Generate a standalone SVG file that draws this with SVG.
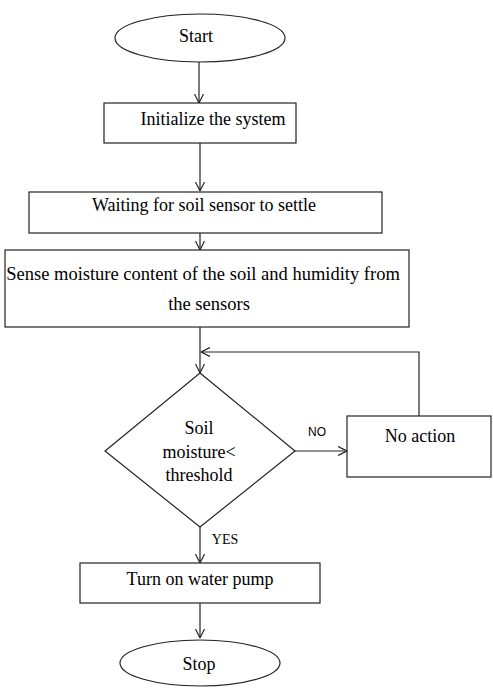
<svg xmlns="http://www.w3.org/2000/svg" width="493" height="689" viewBox="0 0 493 689">
<style>
.s{fill:#fff;stroke:#222;stroke-width:1.2}
.t{font-family:'Liberation Serif','Times New Roman',serif;font-size:18px;fill:#000;text-anchor:middle}
.l{stroke:#222;stroke-width:1.2;fill:none}
.sm{font-family:'Liberation Sans',Arial,sans-serif;font-size:12px;fill:#000;text-anchor:middle}
</style>
<defs>
<marker id="a" viewBox="0 0 10 10" refX="10" refY="5" markerWidth="9" markerHeight="10" markerUnits="userSpaceOnUse" orient="auto">
<path d="M0,0 L10,5 L0,10" fill="none" stroke="#222" stroke-width="1.3"/>
</marker>
</defs>
<rect width="493" height="689" fill="#fff"/>
<g id="connectors">
<line class="l" x1="199" y1="62" x2="199" y2="103" marker-end="url(#a)"/>
<line class="l" x1="200" y1="143" x2="200" y2="191" marker-end="url(#a)"/>
<line class="l" x1="200" y1="233" x2="200" y2="250" marker-end="url(#a)"/>
<line class="l" x1="200" y1="327" x2="200" y2="373" marker-end="url(#a)"/>
<polyline class="l" points="419,416 419,352 201,352" marker-end="url(#a)"/>
<line class="l" x1="295" y1="451" x2="347" y2="451" marker-end="url(#a)"/>
<line class="l" x1="200" y1="527" x2="200" y2="563" marker-end="url(#a)"/>
<line class="l" x1="200" y1="603" x2="200" y2="638" marker-end="url(#a)"/>
<text class="sm" x="317" y="436">NO</text>
<text class="t" x="225" y="544" font-size="14" style="font-size:14px">YES</text>
</g>
<g id="start">
<ellipse class="s" cx="200" cy="38" rx="85" ry="24"/>
<text class="t" x="196" y="42">Start</text>
</g>
<g id="init">
<rect class="s" x="104" y="103" width="192" height="40"/>
<text class="t" x="213" y="125">Initialize the system</text>
</g>
<g id="wait">
<rect class="s" x="29" y="192" width="353" height="41"/>
<text class="t" x="204" y="211">Waiting for soil sensor to settle</text>
</g>
<g id="sense">
<rect class="s" x="5" y="250" width="404" height="77"/>
<text class="t" x="203" y="280" style="font-size:18.5px">Sense moisture content of the soil and humidity from</text>
<text class="t" x="209" y="310" style="font-size:18.5px">the sensors</text>
</g>
<g id="decision">
<polygon class="s" points="200,373 295,451 200,527 105,451"/>
<text class="t" x="199" y="434">Soil</text>
<text class="t" x="199" y="458">moisture&lt;</text>
<text class="t" x="199" y="481">threshold</text>
</g>
<g id="noaction">
<rect class="s" x="347" y="416" width="144" height="61"/>
<text class="t" x="420" y="442">No action</text>
</g>
<g id="pump">
<rect class="s" x="80" y="563" width="240" height="40"/>
<text class="t" x="200" y="585">Turn on water pump</text>
</g>
<g id="stop">
<ellipse class="s" cx="200" cy="663" rx="80" ry="23"/>
<text class="t" x="199" y="670">Stop</text>
</g>
</svg>
